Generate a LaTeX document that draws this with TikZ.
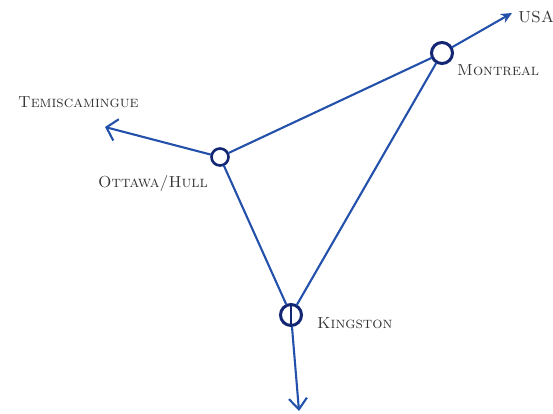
\documentclass[tikz,border=0pt]{standalone}
\usepackage{xcolor}
\usepackage{tikz}
\usetikzlibrary{arrows.meta, positioning}

\definecolor{inkblue}{RGB}{35,80,170}
\definecolor{inknavy}{RGB}{18,38,115}

\begin{document}
\begin{tikzpicture}[x=1pt, y=-1pt,
		route/.style={inkblue, line width=2.1pt, line cap=round},
		city/.style={circle, draw=inknavy, line width=3pt, inner sep=0pt, minimum size=19pt},
		place/.style={font=\fontsize{16}{18}\selectfont\scshape, text=black!80, inner sep=0pt, anchor=west}]
		\useasboundingbox (0,0) rectangle (553,414);
		
		% villes
		\node[city, minimum size=21pt] (montreal) at (442,53) {};
		\node[city, minimum size=17pt, line width=2.6pt] (ottawa) at (220,157) {};
		\node[city, minimum width=17pt, minimum height=21pt] (kingston) at (291,315) {};
		
		% sorties
		\coordinate (usa) at (512,13);
		\coordinate (temis) at (105,127);
		\coordinate (south) at (299,411);
		
		% liaisons
		\draw[route] (ottawa) -- (montreal);
		\draw[route] (ottawa) -- (kingston);
		\draw[route] (montreal) -- (kingston);
		\draw[route, -{Stealth[length=11pt, width=10pt]}] (montreal) -- (usa);
		\draw[route, -{Straight Barb[length=10pt, width=22pt]}] (ottawa) -- (temis);
		\draw[route, -{Straight Barb[length=11pt, width=18pt]}] (kingston) -- (south);
		\draw[inknavy, line width=2pt] (kingston.north) -- (kingston.south);
		
		% noms
		\node[place] (usalbl) at (518,17) {USA};
		\node[place] (montreallbl) at (457,70) {Montreal};
		\node[place] (temislbl) at (18,102) {Temiscamingue};
		\node[place] (ottawalbl) at (98,183) {Ottawa/Hull};
		\node[place] (kingstonlbl) at (317,323) {Kingston};
	\end{tikzpicture}
\end{document}
